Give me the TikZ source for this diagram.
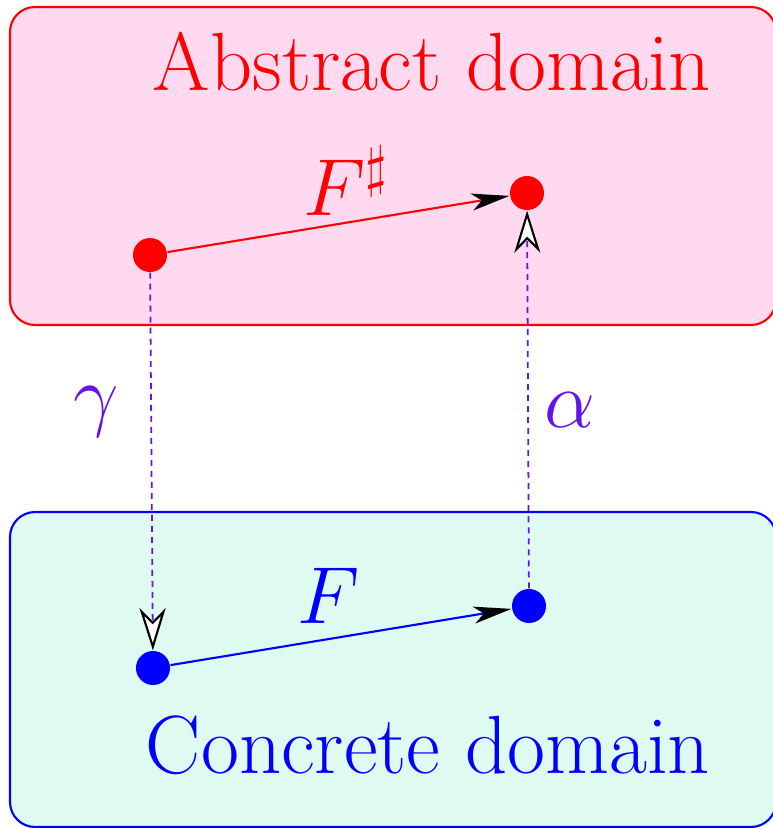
\RequirePackage{fix-cm}
\documentclass[tikz,border=0pt]{standalone}
\usepackage{amsmath,amssymb}
\usepackage{tikz}
\usetikzlibrary{arrows.meta}

\definecolor{absfill}{RGB}{255,217,240}
\definecolor{confill}{RGB}{223,250,240}
\definecolor{galois}{RGB}{100,20,235}

\begin{document}
\begin{tikzpicture}[
    x=0.01cm, y=-0.01cm,
    domainbox/.style={rounded corners=0.25cm, line width=0.6pt},
    absdomain/.style={domainbox, draw=red, fill=absfill},
    condomain/.style={domainbox, draw=blue, fill=confill},
    title/.style={font=\fontsize{23.5}{28}\selectfont},
    lab/.style={font=\fontsize{23}{27}\selectfont},
    dot/.style={circle, inner sep=0pt, minimum size=0.34cm},
    absdot/.style={dot, fill=red},
    condot/.style={dot, fill=blue},
    trans/.style={-{Stealth[length=0.38cm, width=0.17cm, inset=0.1cm, color=black]}, line width=0.6pt},
    galoisarrow/.style={-{Stealth[length=0.42cm, width=0.26cm, inset=0.13cm, color=black, fill=white, line width=0.6pt]},
        galois, line width=0.5pt, dash pattern=on 0.06cm off 0.05cm},
]
\useasboundingbox (0,0) rectangle (772,828);

% Domains
\draw[absdomain] (10,7) rectangle (776,325);
\draw[condomain] (10,512) rectangle (776,827);

\node[title, text=red] (abstitle) at (432,62) {Abstract domain};
\node[title, text=blue] (contitle) at (428,745) {Concrete domain};

% Points
\node[absdot] (a1) at (150,255) {};
\node[absdot] (a2) at (527,193) {};
\node[condot] (c1) at (153,668) {};
\node[condot] (c2) at (529,606) {};

% Transfer functions
\draw[trans, red] (a1) -- (a2);
\draw[trans, blue] (c1) -- (c2);
\node[lab, text=red] (fsharp) at (346,181) {$F^\sharp$};
\node[lab, text=blue] (fconc) at (329,596) {$F$};

% Concretisation and abstraction
\draw[galoisarrow] (a1) -- (c1);
\draw[galoisarrow] (c2) -- (a2);
\node[lab, text=galois] (gamma) at (96,412) {$\gamma$};
\node[lab, text=galois] (alpha) at (570,410) {$\alpha$};

\end{tikzpicture}
\end{document}
